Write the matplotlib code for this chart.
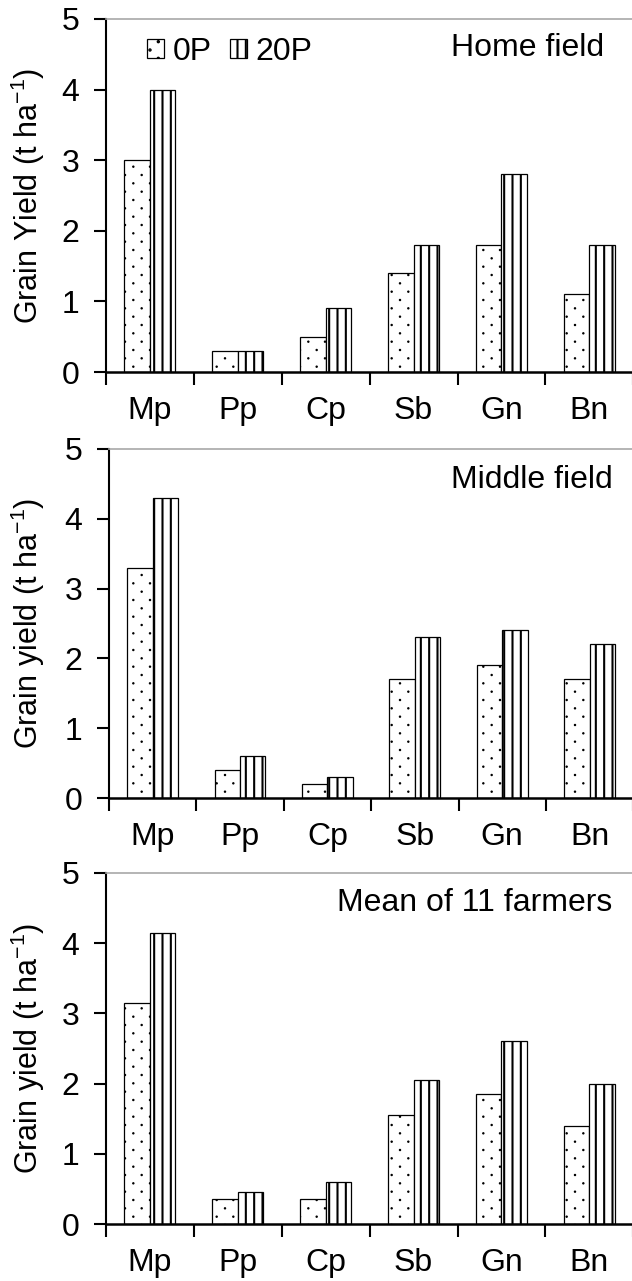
import matplotlib
matplotlib.use("Agg")
import matplotlib.pyplot as plt
import matplotlib.hatch as mhatch
from matplotlib.path import Path
import numpy as np

plt.rcParams['font.family'] = ['Liberation Sans', 'DejaVu Sans']
plt.rcParams['mathtext.fontset'] = 'custom'
plt.rcParams['mathtext.rm'] = 'Liberation Sans'
plt.rcParams['mathtext.it'] = 'Liberation Sans'
plt.rcParams['mathtext.bf'] = 'Liberation Sans'


# Sparse staggered dot hatch (replaces the default '.' pattern)
class SparseDots(mhatch.HatchPatternBase):
    def __init__(self, hatch, density):
        n = hatch.count('.')
        self.ncols = 6 * n
        self.nrows = 12 * n
        circ = Path.unit_circle()
        self.cv = circ.vertices
        self.cc = circ.codes
        if n == 0:
            self.num_vertices = 0
        else:
            cnt = 0
            for r in range(self.nrows + 1):
                cnt += (self.ncols + 1) if r % 2 == 0 else self.ncols
            self.num_vertices = cnt * len(self.cv)

    def set_vertices_and_codes(self, vertices, codes):
        rad = 0.0065
        cstep = 1.0 / self.ncols
        rstep = 1.0 / self.nrows
        vparts, cparts = [], []
        for r in range(self.nrows + 1):
            if r % 2 == 0:
                cols = np.linspace(0, 1, self.ncols + 1)
            else:
                cols = np.linspace(cstep / 2, 1 - cstep / 2, self.ncols)
            for c in cols:
                vparts.append(self.cv * rad + [c, r * rstep])
                cparts.append(self.cc)
        np.concatenate(vparts, out=vertices)
        np.concatenate(cparts, out=codes)


mhatch._hatch_types = [SparseDots if t is mhatch.SmallFilledCircles else t
                       for t in mhatch._hatch_types]

crops = ["Mp", "Pp", "Cp", "Sb", "Gn", "Bn"]
series = ["0P", "20P"]

home_0p = [3.0, 0.3, 0.5, 1.4, 1.8, 1.1]
home_20p = [4.0, 0.3, 0.9, 1.8, 2.8, 1.8]
middle_0p = [3.3, 0.4, 0.2, 1.7, 1.9, 1.7]
middle_20p = [4.3, 0.6, 0.3, 2.3, 2.4, 2.2]
mean_0p = [3.15, 0.35, 0.35, 1.55, 1.85, 1.4]
mean_20p = [4.15, 0.45, 0.6, 2.05, 2.6, 2.0]

titles = ["Home field", "Middle field", "Mean of 11 farmers"]
ylabels = ["Grain Yield (t ha$^{-1}$)", "Grain yield (t ha$^{-1}$)", "Grain yield (t ha$^{-1}$)"]
yticks = [0, 1, 2, 3, 4, 5]

panels = [(home_0p, home_20p), (middle_0p, middle_20p), (mean_0p, mean_20p)]

W, H = 632, 1281
fig = plt.figure(figsize=(W / 100, H / 100), dpi=100)

# axes boxes in pixels: (left, top, bottom)
boxes = [(106, 19, 372), (109, 449, 798), (106, 873, 1224)]
title_pos = [(0.945, 0.918), (0.96, 0.911), (0.96, 0.915)]

bw = 0.29
x = np.arange(len(crops)) + 0.5
for i, ((v0, v1), (l, t, b)) in enumerate(zip(panels, boxes)):
    ax = fig.add_axes([l / W, 1 - b / H, (W - l) / W + 0.002, (b - t) / H])
    plt.rcParams['hatch.linewidth'] = 0.8
    ax.bar(x - bw / 2, v0, bw, facecolor='white', edgecolor='black', hatch='.',
           linewidth=0.9, label=series[0])
    plt.rcParams['hatch.linewidth'] = 1.5
    ax.bar(x + bw / 2, v1, bw, facecolor='white', edgecolor='black', hatch='||',
           linewidth=0.9, label=series[1])
    ax.set_xlim(0, 6)
    ax.set_ylim(0, 5)
    ax.set_yticks(yticks)
    ax.set_yticklabels([str(v) for v in yticks])
    ax.set_xticks(np.arange(0, 7))
    ax.set_xticklabels([])
    ax.set_xticks(x, minor=True)
    ax.set_xticklabels(crops, minor=True)
    ax.tick_params(axis='x', which='major', direction='out', length=9, width=1.5)
    ax.tick_params(axis='x', which='minor', length=0, pad=17, labelsize=23)
    ax.tick_params(axis='y', direction='out', length=9, width=1.5, pad=10, labelsize=23)
    ax.spines['right'].set_visible(False)
    ax.spines['top'].set_color('#a8a8a8')
    ax.spines['top'].set_linewidth(1.2)
    ax.spines['left'].set_linewidth(1.5)
    ax.spines['bottom'].set_linewidth(1.8)
    ax.set_ylabel(ylabels[i], fontsize=22)
    ax.yaxis.set_label_coords((47 - l) / (W - l), 0.5)
    tx, ty = title_pos[i]
    ax.text(tx, ty, titles[i], transform=ax.transAxes, ha='right', va='center', fontsize=23)
    if i == 0:
        ax.legend(loc='upper left', bbox_to_anchor=((147 - l) / (W - l), (b - 37) / (b - t)),
                  ncol=2, frameon=False, fontsize=23, handlelength=0.53, handleheight=0.53,
                  handletextpad=0.28, columnspacing=0.55, borderaxespad=0, borderpad=0)

fig.savefig("out.png", dpi=100)
